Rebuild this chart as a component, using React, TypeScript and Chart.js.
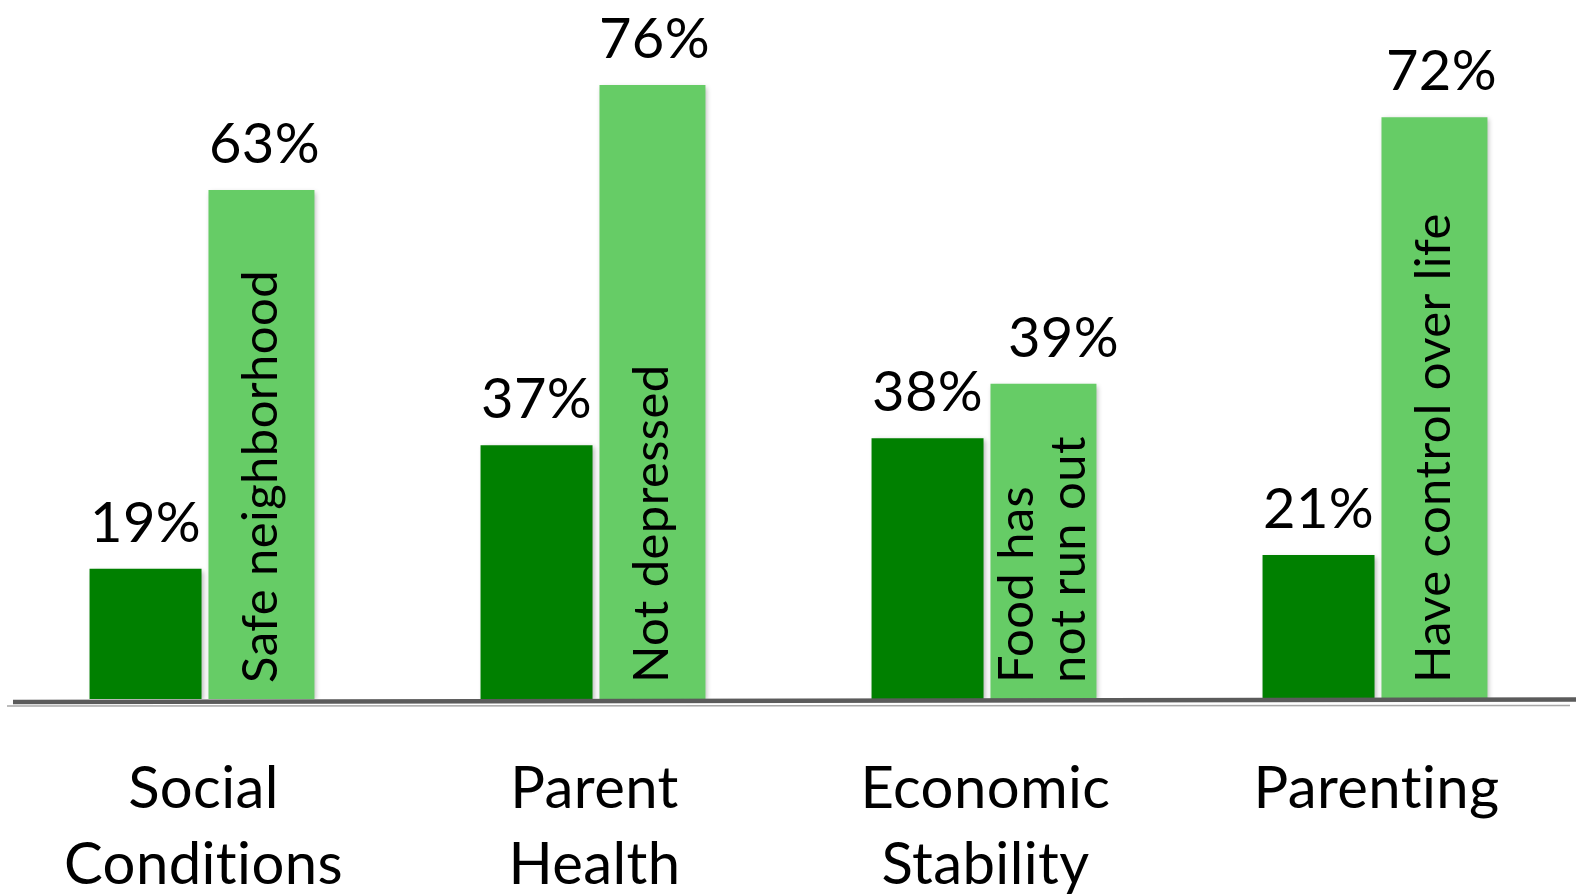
import React, { useEffect, useRef } from 'react';
import { Chart, registerables } from 'chart.js';

Chart.register(...registerables);

const categories: string[][] = [
  ['Social', 'Conditions'],
  ['Parent', 'Health'],
  ['Economic', 'Stability'],
  ['Parenting'],
];
const baselineValues = [19, 37, 38, 21];
const outcomeValues = [63, 76, 39, 72];
const outcomeLabels: string[][] = [
  ['Safe neighborhood'],
  ['Not depressed'],
  ['Food has', 'not run out'],
  ['Have control over life'],
];

const DARK = '#008000';
const LIGHT = '#66CC66';
const FONT = 'Lato';
// small horizontal nudges of the percentage labels (style only)
const valueLabelShift = [
  [0, 0, 0, 0],
  [3, 2, 20, 7],
];

const decorPlugin = {
  id: 'decor',
  beforeDraw(chart: any) {
    const ctx = chart.ctx;
    try {
      ctx.letterSpacing = '0.4px';
    } catch (e) {}
  },
  beforeDatasetsDraw(chart: any) {
    const ctx = chart.ctx;
    ctx.save();
    ctx.shadowColor = 'rgba(0,0,0,0.28)';
    ctx.shadowBlur = 5;
    ctx.shadowOffsetX = 2;
    ctx.shadowOffsetY = 2;
  },
  afterDatasetsDraw(chart: any) {
    const ctx = chart.ctx;
    ctx.restore();
    const y0 = chart.scales.y.getPixelForValue(0);
    const w = chart.width;

    // base line
    ctx.save();
    ctx.lineCap = 'butt';
    ctx.strokeStyle = '#a8a8a8';
    ctx.lineWidth = 1.5;
    ctx.beginPath();
    ctx.moveTo(7, y0 + 7);
    ctx.lineTo(w - 6, y0 + 6.5);
    ctx.stroke();
    ctx.strokeStyle = '#5b5b5b';
    ctx.lineWidth = 4.5;
    ctx.beginPath();
    ctx.moveTo(13, y0 + 3);
    ctx.lineTo(w, y0 + 0.5);
    ctx.stroke();
    ctx.restore();

    // value labels
    ctx.save();
    ctx.fillStyle = '#000';
    ctx.font = `56px ${FONT}`;
    ctx.textAlign = 'center';
    ctx.textBaseline = 'alphabetic';
    chart.data.datasets.forEach((ds: any, di: number) => {
      const meta = chart.getDatasetMeta(di);
      meta.data.forEach((el: any, i: number) => {
        ctx.fillText(`${ds.data[i]}%`, el.x + valueLabelShift[di][i], el.y - 27);
      });
    });
    ctx.restore();

    // rotated labels inside the light bars
    ctx.save();
    ctx.fillStyle = '#000';
    ctx.font = `49px ${FONT}`;
    ctx.textAlign = 'left';
    ctx.textBaseline = 'middle';
    const meta = chart.getDatasetMeta(1);
    meta.data.forEach((el: any, i: number) => {
      const lines = outcomeLabels[i];
      const lh = 52;
      ctx.save();
      ctx.translate(el.x, el.base - 16);
      ctx.rotate(-Math.PI / 2);
      lines.forEach((t, k) => {
        const d = (k - (lines.length - 1) / 2) * lh;
        ctx.fillText(t, 0, d);
      });
      ctx.restore();
    });
    ctx.restore();
  },
};

export default function App() {
  const ref = useRef<HTMLCanvasElement | null>(null);
  useEffect(() => {
    if (!ref.current) return;
    const chart = new Chart(ref.current, {
      type: 'bar',
      data: {
        labels: categories,
        datasets: [
          {
            data: baselineValues,
            backgroundColor: DARK,
            yAxisID: 'y',
            barPercentage: 0.966,
            categoryPercentage: 0.593,
          },
          {
            data: outcomeValues,
            backgroundColor: LIGHT,
            yAxisID: 'y2',
            barPercentage: 0.914,
            categoryPercentage: 0.593,
          },
        ],
      },
      options: {
        animation: false,
        responsive: false,
        devicePixelRatio: 1,
        layout: { padding: { top: 17, left: 8, right: 4, bottom: 0 } },
        plugins: { legend: { display: false }, tooltip: { enabled: false } },
        scales: {
          x: {
            grid: { display: false, drawTicks: false },
            border: { display: false },
            ticks: {
              color: '#000',
              font: { family: FONT, size: 58, lineHeight: 76 / 58 },
              padding: 52,
              maxRotation: 0,
              autoSkip: false,
            },
            afterFit: (s: any) => {
              s.height = 196;
            },
          },
          y: { display: false, min: 0, max: 99.4 },
          y2: { display: false, min: 0, max: 84.4, position: 'right' },
        },
      },
      plugins: [decorPlugin],
    } as any);
    return () => chart.destroy();
  }, []);
  return (
    <div style={{ position: 'absolute', left: 0, top: 0, width: 1576, height: 895, background: '#fff' }}>
      <canvas ref={ref} width={1576} height={895} style={{ display: 'block' }} />
    </div>
  );
}
